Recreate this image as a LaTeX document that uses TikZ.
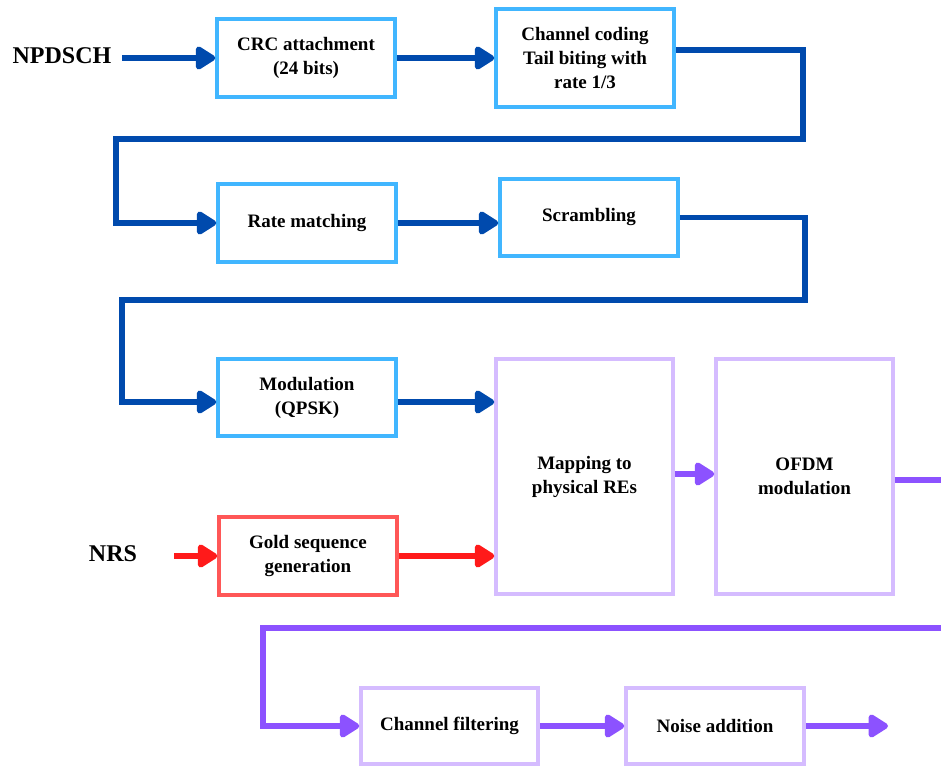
\documentclass[tikz,border=0pt]{standalone}
\usepackage{fontspec}
\setmainfont{Liberation Serif}
\usetikzlibrary{arrows.meta}
\definecolor{boxblue}{HTML}{41B6FF}
\definecolor{lineblue}{HTML}{004AAD}
\definecolor{boxred}{HTML}{FF5757}
\definecolor{linered}{HTML}{FF1A1A}
\definecolor{boxpurple}{HTML}{D5BCFF}
\definecolor{linepurple}{HTML}{8C52FF}
\tikzset{
  block/.style={draw, line width=3.5pt, fill=white, align=center, inner sep=2pt,
    font=\fontsize{19}{24}\selectfont\bfseries, text=black},
  bbox/.style={block, draw=boxblue},
  rbox/.style={block, draw=boxred},
  pbox/.style={block, draw=boxpurple},
  conn/.style={line width=5.5pt, line join=miter,
    -{Triangle[length=22pt,width=26pt,round]}},
  bline/.style={conn, draw=lineblue},
  rline/.style={conn, draw=linered},
  pline/.style={conn, draw=linepurple},
  srclabel/.style={font=\fontsize{24}{28}\selectfont\bfseries, inner sep=0pt, outer xsep=11pt}
}
\begin{document}
\begin{tikzpicture}[x=1pt,y=-1pt]
\useasboundingbox (0,0) rectangle (941,765);
\clip (0,0) rectangle (941,765);

% signal sources
\node[srclabel] (npdsch) at (62,56) {NPDSCH};
\node[srclabel, outer xsep=37pt] (nrs) at (113,554) {NRS};

% processing blocks
\node[bbox, minimum width=178pt, minimum height=78pt] (crc) at (306,58) {CRC attachment\\(24 bits)};
\node[bbox, minimum width=178pt, minimum height=98pt] (cc) at (585,58) {Channel coding\\Tail biting with\\rate 1/3};
\node[bbox, minimum width=178pt, minimum height=78pt] (rm) at (307,223) {Rate matching};
\node[bbox, minimum width=178pt, minimum height=77pt] (scr) at (589,217.5) {Scrambling};
\node[bbox, minimum width=178pt, minimum height=77pt] (mod) at (307,397.5) {Modulation\\(QPSK)};
\node[rbox, minimum width=178pt, minimum height=78pt] (gold) at (308,556) {Gold sequence\\generation};
\node[pbox, minimum width=177pt, minimum height=235pt] (map) at (584.5,476.5) {Mapping to\\physical REs};
\node[pbox, minimum width=177pt, minimum height=235pt] (ofdm) at (804.5,476.5) {OFDM\\modulation};
\node[pbox, minimum width=177pt, minimum height=76pt] (cf) at (449.5,726) {Channel filtering};
\node[pbox, minimum width=178pt, minimum height=76pt] (na) at (715,726) {Noise addition};
\coordinate (out) at (888,726);

% NPDSCH chain
\draw[bline] (npdsch.east |- crc.west) -- (crc.west);
\draw[bline] (crc.east) -- (cc.west);
\draw[bline] (cc.east |- 0,50) -- (803,50) |- (116,139) |- (rm.west);
\draw[bline] (rm.east) -- (scr.west |- rm.east);
\draw[bline] (scr.east) -- (805,217.5) |- (122,300) |- (mod.west |- 0,402);
\draw[bline] (mod.east |- 0,402) -- (map.west |- 0,402);

% reference signal chain
\draw[rline] (nrs.east |- gold.west) -- (gold.west);
\draw[rline] (gold.east) -- (map.west |- gold.east);

% OFDM and channel
\draw[pline] (map.east |- 0,474) -- (ofdm.west |- 0,474);
\draw[pline] (ofdm.east |- 0,480) -- (960,480) |- (263,628) |- (cf.west);
\draw[pline] (cf.east) -- (na.west);
\draw[pline] (na.east) -- (out);
\end{tikzpicture}
\end{document}
